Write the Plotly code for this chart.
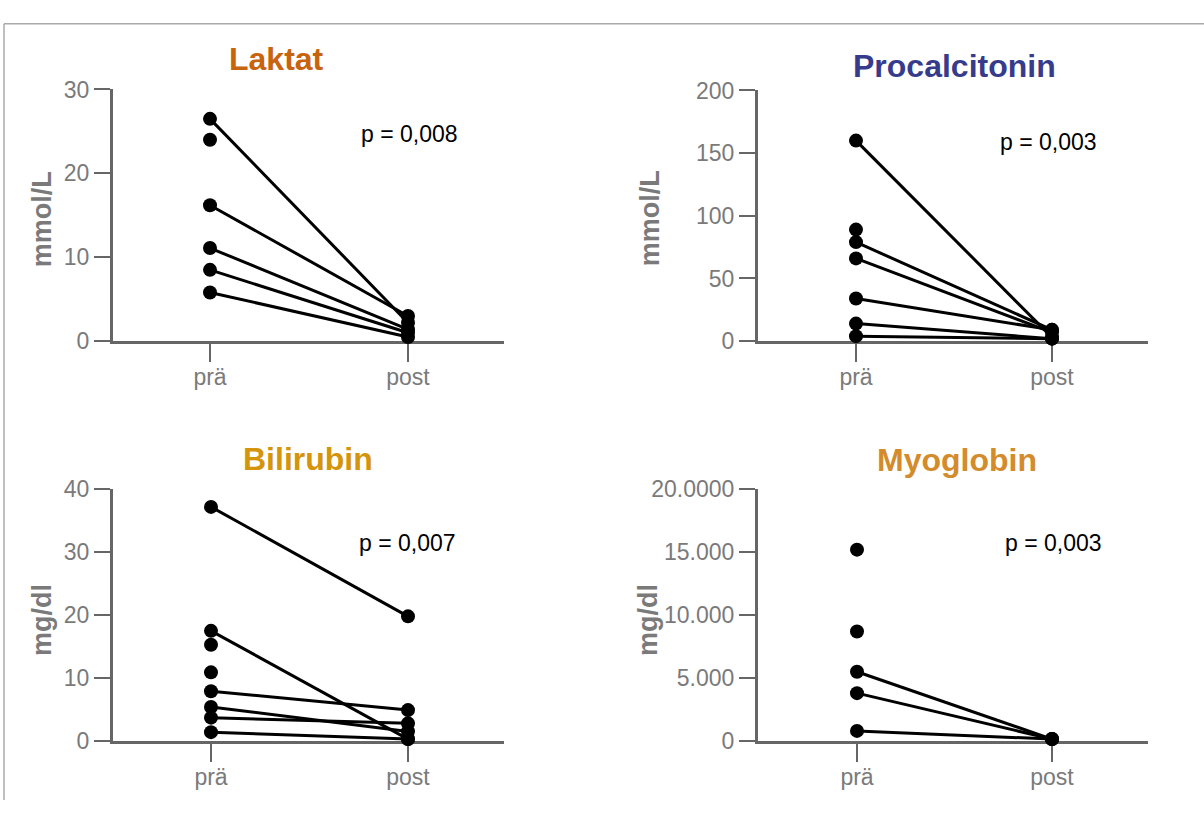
import plotly.graph_objects as go

W, H = 1204, 813

# ---------------- data ----------------
categories = ["prä", "post"]

laktat_pre = [26.5, 24.0, 16.2, 11.1, 8.5, 5.8]
laktat_post = [2.2, None, 3.0, 1.4, 1.0, 0.5]

pct_pre = [160, 89, 79, 66, 34, 14, 4]
pct_post = [3, None, 9, 7, 9, 2, 2]

bili_pre = [37.2, 17.5, 15.3, 10.9, 7.9, 5.4, 3.7, 1.4]
bili_post = [19.8, 0.3, None, None, 4.9, 1.5, 2.8, 0.3]

myo_pre = [15200, 8700, 5500, 3800, 800]
myo_post = [None, None, 150, 150, 150]

titles = ["Laktat", "Procalcitonin", "Bilirubin", "Myoglobin"]
title_colors = ["#C8630E", "#373B8C", "#D4940B", "#D38B2B"]
units = ["mmol/L", "mmol/L", "mg/dl", "mg/dl"]
p_values = ["p = 0,008", "p = 0,003", "p = 0,007", "p = 0,003"]

laktat_ticks = [0, 10, 20, 30]
pct_ticks = [0, 50, 100, 150, 200]
bili_ticks = [0, 10, 20, 30, 40]
myo_ticks = [0, 5000, 10000, 15000, 20000]
myo_ticktext = ["0", "5.000", "10.000", "15.000", "20.0000"]

FONT = "Liberation Sans, Arial, Helvetica, sans-serif"
AXIS = "#666666"
LABEL = "#7a7a7a"


def px_x(a, b):
    return [a / W, b / W]


def px_y(top, bottom):
    return [1 - bottom / H, 1 - top / H]


# panel pixel geometry: (x_left, x_right, y_top, y_bottom, pre_px, post_px)
panels = [
    (113, 504, 79, 339, 210, 408),
    (758, 1148, 80, 339, 856, 1052),
    (113, 504, 492, 752, 211, 408),
    (758, 1148, 492, 752, 857, 1052),
]
series = [(laktat_pre, laktat_post), (pct_pre, pct_post),
          (bili_pre, bili_post), (myo_pre, myo_post)]
yranges = [[0, 30], [0, 200], [0, 40], [0, 20000]]
yticks = [(laktat_ticks, [str(v) for v in laktat_ticks]),
          (pct_ticks, [str(v) for v in pct_ticks]),
          (bili_ticks, [str(v) for v in bili_ticks]),
          (myo_ticks, myo_ticktext)]

# title centers, ytitle centers, p-text left/center
title_pos = [(276, 48), (955, 55), (308, 461), (957, 462)]
ytitle_pos = [(42, 213), (650, 212), (42, 627), (648, 627)]
p_pos = [(359, 125), (998, 133), (357, 547), (1003, 548)]

fig = go.Figure()
layout = dict(
    width=W, height=H,
    margin=dict(l=0, r=0, t=0, b=0),
    paper_bgcolor="white", plot_bgcolor="white",
    showlegend=False,
    font=dict(family=FONT),
)

annotations = []
for i, ((xl, xr, yt, yb, ppre, ppost), (pre, post)) in enumerate(zip(panels, series)):
    k = "" if i == 0 else str(i + 1)
    unit = (ppost - ppre)
    r0 = -(ppre - xl) / unit
    r1 = 1 + (xr - ppost) / unit
    xs, ys = [], []
    for a, b in zip(pre, post):
        xs += [0, 1, None]
        ys += [a, b, None]
    fig.add_trace(go.Scatter(
        x=xs, y=ys, mode="lines+markers",
        line=dict(color="black", width=3),
        marker=dict(color="black", size=14),
        cliponaxis=False,
        xaxis="x" + k, yaxis="y" + k,
        hoverinfo="skip",
    ))
    layout["xaxis" + k] = dict(
        domain=px_x(xl, xr), anchor="y" + k, range=[r0, r1],
        tickvals=[0, 1], ticktext=categories,
        showline=True, linecolor=AXIS, linewidth=3,
        ticks="outside", ticklen=18, tickwidth=2, tickcolor=AXIS,
        ticklabelstandoff=-5,
        showgrid=False, zeroline=False, layer="below traces",
        tickfont=dict(family=FONT, size=23, color=LABEL),
        fixedrange=True,
    )
    tv, tt = yticks[i]
    layout["yaxis" + k] = dict(
        domain=px_y(yt, yb), anchor="x" + k, range=yranges[i],
        tickvals=tv, ticktext=tt,
        showline=True, linecolor=AXIS, linewidth=3,
        ticks="outside", ticklen=16, tickwidth=2, tickcolor=AXIS,
        showgrid=False, zeroline=False, layer="below traces",
        tickfont=dict(family=FONT, size=23, color=LABEL),
        fixedrange=True,
    )
    tx, ty = title_pos[i]
    annotations.append(dict(
        text="<b>%s</b>" % titles[i], x=tx / W, y=1 - ty / H,
        xref="paper", yref="paper", xanchor="center", yanchor="middle",
        showarrow=False, font=dict(family=FONT, size=32, color=title_colors[i]),
    ))
    ux, uy = ytitle_pos[i]
    annotations.append(dict(
        text="<b>%s</b>" % units[i], x=ux / W, y=1 - uy / H,
        xref="paper", yref="paper", xanchor="center", yanchor="middle",
        textangle=-90, showarrow=False,
        font=dict(family=FONT, size=27, color=LABEL),
    ))
    px_, py_ = p_pos[i]
    annotations.append(dict(
        text=p_values[i], x=px_ / W, y=1 - py_ / H,
        xref="paper", yref="paper", xanchor="left", yanchor="middle",
        showarrow=False, font=dict(family=FONT, size=23, color="black"),
    ))

layout["annotations"] = annotations
layout["shapes"] = [
    dict(type="line", xref="paper", yref="paper", x0=4 / W, x1=1, y0=1 - 11 / H, y1=1 - 11 / H,
         line=dict(color="#aaaaaa", width=1.5)),
    dict(type="line", xref="paper", yref="paper", x0=4 / W, x1=4 / W, y0=0, y1=1 - 11 / H,
         line=dict(color="#aaaaaa", width=1.5)),
]
fig.update_layout(**layout)
fig.write_html(
    "out.html",
    config={"displayModeBar": False},
    post_script="document.body.style.margin='0';document.body.style.overflow='hidden';",
)
